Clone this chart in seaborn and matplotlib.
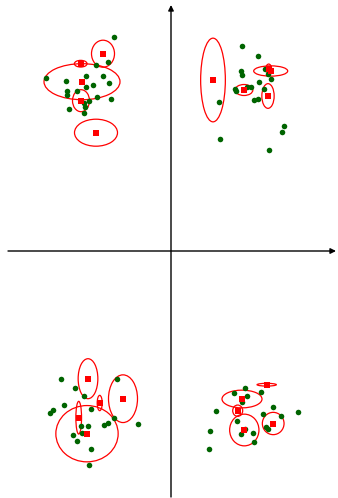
import pandas as pd
import matplotlib
matplotlib.use('Agg')
import matplotlib.pyplot as plt
from matplotlib.patches import Ellipse
import seaborn as sns; sns.set_style('white')

# observations, one list per quadrant
pts_x_tl = [-57, -63.3, -75.3, -125, -105.3, -85, -68.3, -62.3, -78, -85.3, -104, -104.3, -94, -74.3, -59.7, -81.7, -87, -86, -101.7, -86.7]
pts_y_tl = [213.7, 189, 185.7, 172.7, 170.3, 175, 175, 167.7, 166.3, 163.7, 160.3, 156.3, 160.3, 153.7, 152.3, 150.3, 148.3, 143.7, 141.7, 137.7]
pts_x_tr = [71, 86.7, 70, 71.3, 93.7, 97.3, 100, 88, 64.3, 65, 75.7, 80, 93.3, 83.3, 86.7, 48.3, 113.3, 111, 48.7, 97.7]
pts_y_tr = [205, 195.3, 180.3, 175.7, 182, 176.7, 171.7, 169, 162.3, 160, 164, 163.7, 161.7, 151, 151.7, 149, 125.3, 118.7, 112, 101]
pts_x_bl = [-110.3, -96.3, -87, -54.3, -106.7, -117.7, -120.7, -80.3, -57, -32.7, -89.7, -83.3, -67.5, -63.5, -98.2, -89.2, -93.7, -79.7, -82.2]
pts_y_bl = [-127.7, -137, -144.7, -127.7, -153.7, -159, -161.7, -158.3, -166.7, -173, -174.5, -174.7, -173.7, -172.3, -183.7, -181.7, -189.7, -197.5, -214.3]
pts_x_br = [73.7, 89.7, 62.7, 76.3, 71, 45, 102, 127, 91.7, 110.3, 66.3, 94.7, 97.3, 74, 69.7, 82, 39.3, 83.3, 38.3]
pts_y_br = [-136.7, -141, -142.3, -145, -150.7, -159.7, -156, -161, -163.3, -165.3, -170.3, -175.7, -178, -178, -183.3, -182, -180.3, -190.7, -198]

# cluster centres and spread (width, height of ellipse)
ctr_x = [-68, -90.3, -89, -90, -75,
         42, 73, 97, 97.7, 99.7,
         -83, -48, -71.3, -92.3, -84,
         95.7, 71, 66.7, 73.3, 102.2]
ctr_y = [197.3, 187.3, 169.3, 150.3, 118.3,
         171, 161, 155, 182.3, 180,
         -127.7, -147.7, -152, -166.7, -182.7,
         -133.7, -148, -159.7, -179, -172.5]
ell_w = [23, 12.7, 76, 17, 43,
         24.7, 17.7, 12.3, 5.7, 34,
         19.7, 29, 5, 5.7, 62.3,
         19.3, 40, 10, 29.3, 21.7]
ell_h = [27, 6.7, 36, 22, 27,
         83.7, 11, 24.7, 9.3, 10.3,
         40, 47.7, 15.3, 32.7, 56.3,
         2.7, 17.7, 11.3, 31.7, 22.3]

pts = pd.DataFrame({'x': pts_x_tl + pts_x_tr + pts_x_bl + pts_x_br,
                    'y': pts_y_tl + pts_y_tr + pts_y_bl + pts_y_br})
ctr = pd.DataFrame({'x': ctr_x, 'y': ctr_y})

fig = plt.figure(figsize=(3.38, 4.98), dpi=100)
ax = fig.add_axes([0, 0, 1, 1])
ax.set_xlim(-171, 167)
ax.set_ylim(-247, 251)
ax.axis('off')

# axes with arrows
arrow = dict(arrowstyle='-|>', color='black', lw=1, mutation_scale=8,
             shrinkA=0, shrinkB=0)
ax.annotate('', xy=(165, 0), xytext=(-163, 0), arrowprops=arrow)
ax.annotate('', xy=(0, 246), xytext=(0, -246), arrowprops=arrow)

for i in range(len(ctr_x)):
    ax.add_patch(Ellipse((ctr_x[i], ctr_y[i]), ell_w[i], ell_h[i],
                         fill=False, edgecolor='red', lw=0.9, zorder=3))

sns.scatterplot(data=pts, x='x', y='y', ax=ax, color='#006400', s=16,
                linewidth=0, zorder=4)
sns.scatterplot(data=ctr, x='x', y='y', ax=ax, color='red', marker='s', s=14,
                linewidth=0, zorder=5)

fig.savefig('out.png', dpi=100)
